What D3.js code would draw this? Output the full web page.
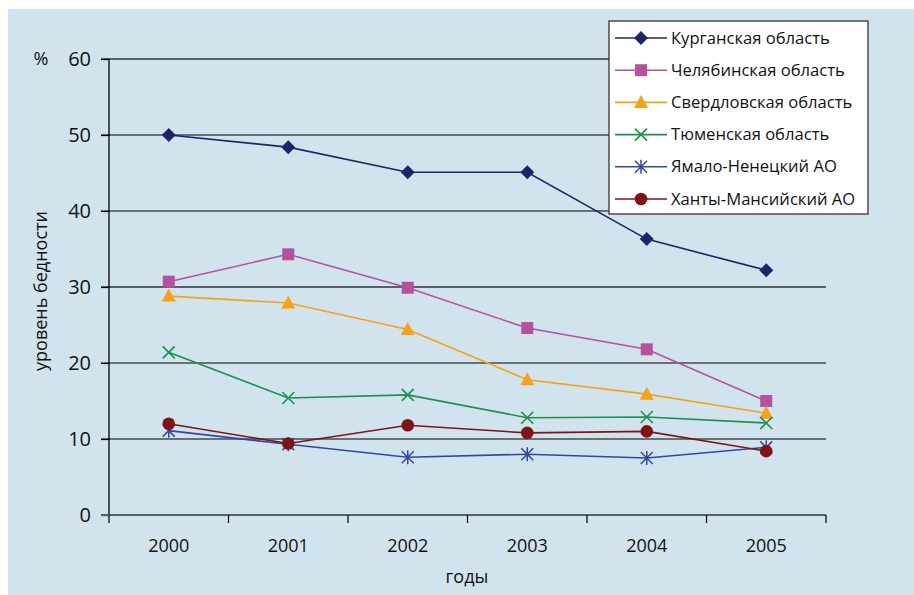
<!DOCTYPE html>
<html><head><meta charset="utf-8">
<script src="https://cdn.jsdelivr.net/npm/d3@7"></script>
<style>body{margin:0;background:#fff}svg{display:block;font-family:"Open Sans",sans-serif}</style>
</head><body>
<svg id="c" width="914" height="595"></svg>
<script>
const years = ["2000","2001","2002","2003","2004","2005"];
const seriesNames = ["Курганская область","Челябинская область","Свердловская область","Тюменская область","Ямало-Ненецкий АО","Ханты-Мансийский АО"];
const kurgan = [50.0, 48.4, 45.1, 45.1, 36.3, 32.2];
const chelyabinsk = [30.7, 34.3, 29.9, 24.6, 21.8, 15.0];
const sverdlovsk = [28.8, 27.9, 24.4, 17.8, 15.9, 13.4];
const tyumen = [21.4, 15.4, 15.8, 12.8, 12.9, 12.1];
const yamal = [11.1, 9.3, 7.6, 8.0, 7.5, 8.9];
const khanty = [12.0, 9.4, 11.8, 10.8, 11.0, 8.4];
const yTicks = [0,10,20,30,40,50,60];
const colors = ["#1f2468","#b5529b","#f7a11a","#1e8f4e","#2e4a9e","#7f1318"];
const markers = ["diamond","square","triangle","x","asterisk","circle"];
const values = [kurgan, chelyabinsk, sverdlovsk, tyumen, yamal, khanty];

const svg = d3.select("#c");
svg.append("rect").attr("x",8).attr("y",9).attr("width",906).attr("height",586).attr("fill","#d1e4ed");

const x = d3.scaleBand().domain(years).range([109,826]);
const y = d3.scaleLinear().domain([0,60]).range([515,59]);

// gridlines
svg.append("g").selectAll("line").data(yTicks.filter(d=>d>0)).join("line")
  .attr("x1",101).attr("x2",826).attr("y1",d=>y(d)).attr("y2",d=>y(d))
  .attr("stroke",d=>(d===30||d===60)?"#5a6066":"#000")
  .attr("stroke-width",d=>(d===30||d===60)?2:1.2);

// y axis
const ya = svg.append("g").attr("transform","translate(109,0)")
  .call(d3.axisLeft(y).tickValues(yTicks).tickSize(8).tickPadding(10));
ya.select(".domain").attr("stroke","#000").attr("stroke-width",1.3).attr("d","M0,515V59");
ya.selectAll(".tick line").attr("stroke","#000").attr("stroke-width",1.2);
ya.selectAll(".tick text").attr("font-size",20).attr("fill","#111").attr("font-family","Open Sans");

// x axis
const xa = svg.append("g").attr("transform","translate(0,515)")
  .call(d3.axisBottom(x).tickSize(0).tickPadding(24));
xa.select(".domain").remove();
xa.selectAll(".tick text").attr("font-size",18).attr("fill","#111").attr("font-family","Open Sans");
svg.append("line").attr("x1",101).attr("x2",826).attr("y1",515).attr("y2",515).attr("stroke","#5a6066").attr("stroke-width",2);
const bounds = years.map(d=>x(d)).concat([x(years[years.length-1])+x.bandwidth()]);
svg.append("g").selectAll("line").data(bounds).join("line")
  .attr("x1",d=>d).attr("x2",d=>d).attr("y1",515).attr("y2",523).attr("stroke","#000").attr("stroke-width",1.2);

// labels
svg.append("text").attr("x",41).attr("y",65).attr("text-anchor","middle").attr("font-size",18).attr("fill","#111").text("%");
svg.append("text").attr("transform","translate(47,291) rotate(-90)").attr("text-anchor","middle").attr("font-size",18).attr("fill","#111").text("уровень бедности");
svg.append("text").attr("x",467).attr("y",583).attr("text-anchor","middle").attr("font-size",18).attr("fill","#111").text("годы");

function drawMarker(g, type, color){
  if(type==="diamond") g.append("path").attr("d","M0,-7L7,0L0,7L-7,0Z").attr("fill",color);
  else if(type==="square") g.append("rect").attr("x",-6).attr("y",-6).attr("width",12).attr("height",12).attr("fill",color);
  else if(type==="triangle") g.append("path").attr("d","M0,-7.5L7,5.5L-7,5.5Z").attr("fill",color);
  else if(type==="circle") g.append("circle").attr("r",6.3).attr("fill",color);
  else if(type==="x") g.append("path").attr("d","M-6,-6L6,6M-6,6L6,-6").attr("stroke",color).attr("stroke-width",1.6).attr("fill","none");
  else if(type==="asterisk") g.append("path").attr("d","M-6,-6L6,6M-6,6L6,-6M0,-7L0,7").attr("stroke",color).attr("stroke-width",1.5).attr("fill","none");
}

const line = d3.line().x((d,i)=>x(years[i])+x.bandwidth()/2).y(d=>y(d));
values.forEach((vals,si)=>{
  const g = svg.append("g");
  g.append("path").attr("d",line(vals)).attr("fill","none").attr("stroke",colors[si]).attr("stroke-width",1.6);
  vals.forEach((v,i)=>{
    const mg = g.append("g").attr("transform",`translate(${x(years[i])+x.bandwidth()/2},${y(v)})`);
    drawMarker(mg, markers[si], colors[si]);
  });
});

// legend
const lg = svg.append("g");
lg.append("rect").attr("x",609).attr("y",21).attr("width",259).attr("height",193).attr("fill","#fff").attr("stroke","#333").attr("stroke-width",1.3);
seriesNames.forEach((n,i)=>{
  const ly = 38 + i*32.2;
  lg.append("line").attr("x1",615).attr("x2",667).attr("y1",ly).attr("y2",ly).attr("stroke",colors[i]).attr("stroke-width",1.6);
  const mg = lg.append("g").attr("transform",`translate(641,${ly})`);
  drawMarker(mg, markers[i], colors[i]);
  lg.append("text").attr("x",671).attr("y",ly+5.5).attr("font-size",16.6).attr("fill","#111").text(n);
});
</script>
</body></html>
